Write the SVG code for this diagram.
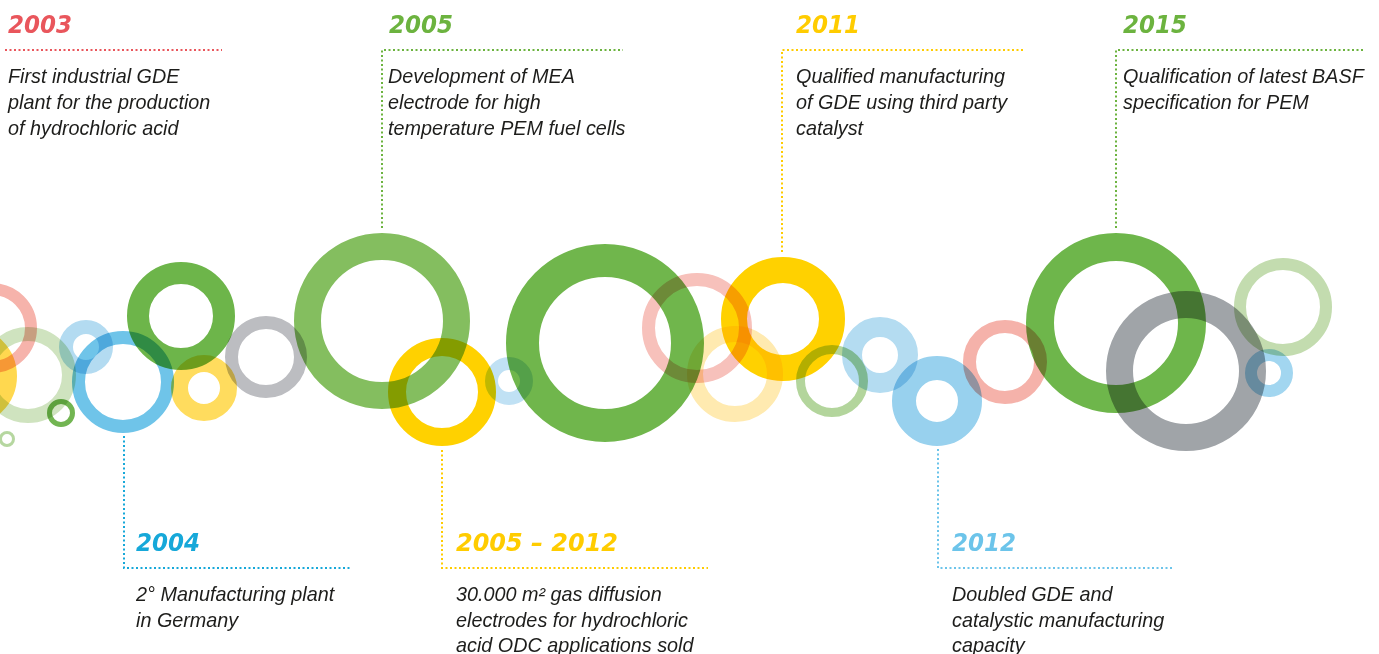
<svg xmlns="http://www.w3.org/2000/svg" width="1379" height="654" viewBox="0 0 1379 654">
<style>
.ring{fill:none;mix-blend-mode:multiply}
.yr{font-family:"DejaVu Sans","Liberation Sans",sans-serif;font-weight:bold;font-style:italic;font-size:24px}
.d{font-family:"Liberation Sans",Arial,sans-serif;font-style:italic;font-size:19.8px;fill:#1d1d1b}
.dot{fill:none;stroke-width:2;stroke-dasharray:2 2.5}
.red{fill:#e9565c;stroke:#e9565c}
.grn{fill:#6cb33f;stroke:#6cb33f}
.yel{fill:#ffcc00;stroke:#ffcc00}
.blu{fill:#16a8d9;stroke:#16a8d9}
.lbl{fill:#6cc4ea;stroke:#6cc4ea}
</style>
<rect width="1379" height="654" fill="#ffffff"/>
<g id="rings">
<circle class="ring" cx="-8" cy="328" r="39" stroke="#f6b3ab" stroke-width="12"/>
<circle class="ring" cx="-33" cy="376" r="40" stroke="#ffd84f" stroke-width="20"/>
<circle class="ring" cx="28" cy="375" r="41" stroke="#cfe3bf" stroke-width="14"/>
<circle class="ring" cx="61" cy="413" r="11.5" stroke="#72b552" stroke-width="5"/>
<circle class="ring" cx="7" cy="439" r="6.5" stroke="#b6d7a0" stroke-width="3"/>
<circle class="ring" cx="86" cy="347" r="20" stroke="#b3dbf1" stroke-width="14"/>
<circle class="ring" cx="123" cy="382" r="44.5" stroke="#6fc4e9" stroke-width="13"/>
<circle class="ring" cx="181" cy="316" r="43" stroke="#6db54a" stroke-width="22"/>
<circle class="ring" cx="204" cy="388" r="24.5" stroke="#ffdc5e" stroke-width="17"/>
<circle class="ring" cx="266" cy="357" r="34.5" stroke="#bcbdc1" stroke-width="13"/>
<circle class="ring" cx="382" cy="321" r="74.5" stroke="#84be5f" stroke-width="27"/>
<circle class="ring" cx="442" cy="392" r="45" stroke="#ffd100" stroke-width="18"/>
<circle class="ring" cx="509" cy="381" r="17.5" stroke="#c0e1f4" stroke-width="13"/>
<circle class="ring" cx="605" cy="343" r="82.5" stroke="#70b64c" stroke-width="33"/>
<circle class="ring" cx="697" cy="328" r="48.5" stroke="#f7c1bb" stroke-width="13"/>
<circle class="ring" cx="735" cy="374" r="40" stroke="#ffeab0" stroke-width="16"/>
<circle class="ring" cx="783" cy="319" r="49" stroke="#ffd100" stroke-width="26"/>
<circle class="ring" cx="832" cy="381" r="31.5" stroke="#b3d59c" stroke-width="9"/>
<circle class="ring" cx="880" cy="355" r="28" stroke="#b4dcf1" stroke-width="20"/>
<circle class="ring" cx="937" cy="401" r="33" stroke="#98d1ee" stroke-width="24"/>
<circle class="ring" cx="1005" cy="362" r="35.5" stroke="#f5b2aa" stroke-width="13"/>
<circle class="ring" cx="1116" cy="323" r="76" stroke="#6eb64b" stroke-width="28"/>
<circle class="ring" cx="1186" cy="371" r="66.5" stroke="#a0a4a8" stroke-width="27"/>
<circle class="ring" cx="1283" cy="307" r="43" stroke="#c3dcaf" stroke-width="12"/>
<circle class="ring" cx="1269" cy="373" r="18" stroke="#a2d6f0" stroke-width="12"/>
</g>
<g id="connectors">
<path class="dot red" style="fill:none" d="M5 50H222"/>
<path class="dot grn" style="fill:none" d="M382 228V50H623"/>
<path class="dot yel" style="fill:none" d="M782 252V50H1025"/>
<path class="dot grn" style="fill:none" d="M1116 228V50H1363"/>
<path class="dot blu" style="fill:none" d="M124 436V568H350"/>
<path class="dot yel" style="fill:none" d="M442 450V568H708"/>
<path class="dot lbl" style="fill:none" d="M938 449V568H1173"/>
</g>
<g id="m2003">
<text class="yr red" style="stroke:none" x="8" y="33" textLength="64" lengthAdjust="spacingAndGlyphs">2003</text>
<text class="d" x="8" y="83">First industrial GDE</text>
<text class="d" x="8" y="109">plant for the production</text>
<text class="d" x="8" y="135">of hydrochloric acid</text>
</g>
<g id="m2005">
<text class="yr grn" style="stroke:none" x="389" y="33" textLength="64" lengthAdjust="spacingAndGlyphs">2005</text>
<text class="d" x="388" y="83">Development of MEA</text>
<text class="d" x="388" y="109">electrode for high</text>
<text class="d" x="388" y="135">temperature PEM fuel cells</text>
</g>
<g id="m2011">
<text class="yr yel" style="stroke:none" x="796" y="33" textLength="64" lengthAdjust="spacingAndGlyphs">2011</text>
<text class="d" x="796" y="83">Qualified manufacturing</text>
<text class="d" x="796" y="109">of GDE using third party</text>
<text class="d" x="796" y="135">catalyst</text>
</g>
<g id="m2015">
<text class="yr grn" style="stroke:none" x="1123" y="33" textLength="64" lengthAdjust="spacingAndGlyphs">2015</text>
<text class="d" x="1123" y="83">Qualification of latest BASF</text>
<text class="d" x="1123" y="109">specification for PEM</text>
</g>
<g id="m2004">
<text class="yr blu" style="stroke:none" x="136" y="551" textLength="64" lengthAdjust="spacingAndGlyphs">2004</text>
<text class="d" x="136" y="601">2° Manufacturing plant</text>
<text class="d" x="136" y="627">in Germany</text>
</g>
<g id="m2005-2012">
<text class="yr yel" style="stroke:none" x="456" y="551" textLength="162" lengthAdjust="spacingAndGlyphs">2005 – 2012</text>
<text class="d" x="456" y="601">30.000 m² gas diffusion</text>
<text class="d" x="456" y="627">electrodes for hydrochloric</text>
<text class="d" x="456" y="652">acid ODC applications sold</text>
</g>
<g id="m2012">
<text class="yr lbl" style="stroke:none" x="952" y="551" textLength="64" lengthAdjust="spacingAndGlyphs">2012</text>
<text class="d" x="952" y="601">Doubled GDE and</text>
<text class="d" x="952" y="627">catalystic manufacturing</text>
<text class="d" x="952" y="652">capacity</text>
</g>
</svg>
